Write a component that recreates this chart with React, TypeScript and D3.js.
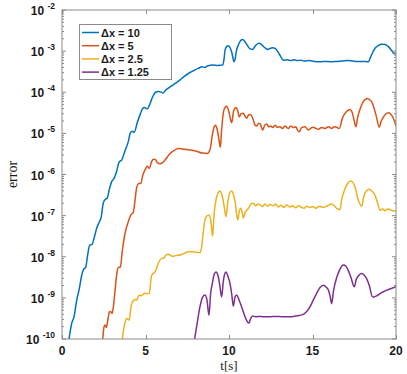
import React, { useEffect, useRef } from "react";
import * as d3 from "d3";

// [t, log10(error)]
const dx10: number[][] = [
  [0.42, -10], [0.58, -9.62], [0.72, -9.46], [0.88, -9.06], [1.04, -8.77], [1.18, -8.45], [1.3, -8.3], [1.42, -8.26],
  [1.52, -8.0], [1.66, -7.72], [1.8, -7.7], [1.92, -7.55], [2.08, -7.3], [2.24, -7.15], [2.34, -7.05], [2.47, -6.7],
  [2.6, -6.6], [2.7, -6.58], [2.84, -6.35], [2.97, -6.18], [3.11, -6.1], [3.25, -5.95], [3.43, -5.69], [3.57, -5.65],
  [3.75, -5.45], [3.97, -5.2], [4.1, -4.98], [4.2, -4.95], [4.33, -4.97], [4.5, -4.75], [4.67, -4.55], [4.82, -4.4],
  [4.95, -4.37], [5.1, -4.41], [5.25, -4.3], [5.43, -4.11], [5.6, -4.0], [5.75, -3.98], [5.9, -3.99], [6.05, -4.02],
  [6.2, -3.95], [6.47, -3.87], [6.8, -3.78], [7.07, -3.7], [7.3, -3.62], [7.66, -3.52], [7.9, -3.47], [8.16, -3.42],
  [8.4, -3.38], [8.56, -3.4], [8.7, -3.36], [9.06, -3.34], [9.3, -3.35], [9.62, -3.34], [9.7, -3.2], [9.76, -2.99],
  [9.85, -2.89], [9.96, -2.87], [10.08, -2.93], [10.18, -3.05], [10.3, -3.26], [10.36, -3.2], [10.45, -2.98],
  [10.56, -2.85], [10.7, -2.74], [10.8, -2.72], [10.96, -2.77], [11.1, -2.86], [11.22, -2.93], [11.4, -2.96],
  [11.6, -2.86], [11.78, -2.81], [11.95, -2.84], [12.1, -2.9], [12.3, -2.96], [12.42, -2.94], [12.6, -2.92],
  [12.75, -2.93], [12.9, -3.0], [13.05, -3.1], [13.2, -3.2], [13.3, -3.22], [13.5, -3.21], [13.7, -3.23],
  [13.9, -3.21], [14.1, -3.23], [14.3, -3.22], [14.5, -3.24], [14.8, -3.23], [15.1, -3.25], [15.45, -3.26],
  [15.8, -3.25], [16.1, -3.26], [16.45, -3.25], [16.8, -3.24], [17.1, -3.23], [17.4, -3.24], [17.7, -3.25],
  [18.0, -3.25], [18.34, -3.26], [18.5, -3.12], [18.74, -2.93], [18.95, -2.86], [19.14, -2.83], [19.35, -2.84],
  [19.54, -2.89], [19.75, -2.99], [19.85, -3.05], [20, -3.07],
];

const dx5: number[][] = [
  [2.44, -10], [2.52, -9.7], [2.58, -9.66], [2.66, -9.72], [2.74, -9.55], [2.84, -9.34], [2.9, -9.33], [3.0, -9.38],
  [3.08, -9.2], [3.17, -8.85], [3.27, -8.45], [3.37, -8.26], [3.5, -8.25], [3.6, -7.9], [3.7, -7.6], [3.82, -7.35],
  [3.97, -7.15], [4.11, -6.99], [4.27, -6.92], [4.38, -6.6], [4.47, -6.32], [4.6, -6.22], [4.71, -6.22], [4.85, -6.0],
  [4.97, -5.89], [5.11, -5.8], [5.23, -5.85], [5.37, -5.68], [5.5, -5.63], [5.6, -5.64], [5.72, -5.72], [5.87, -5.74],
  [6.0, -5.72], [6.17, -5.65], [6.47, -5.49], [6.7, -5.42], [6.97, -5.37], [7.2, -5.38], [7.47, -5.39], [7.8, -5.41],
  [8.1, -5.44], [8.4, -5.48], [8.7, -5.49], [8.86, -5.4], [9.0, -5.05], [9.1, -4.85], [9.18, -4.8], [9.28, -4.88],
  [9.38, -5.1], [9.48, -5.34], [9.56, -4.9], [9.66, -4.5], [9.78, -4.36], [9.86, -4.34], [9.96, -4.42], [10.06, -4.6],
  [10.16, -4.74], [10.28, -4.45], [10.42, -4.37], [10.52, -4.45], [10.62, -4.6], [10.72, -4.52], [10.86, -4.51],
  [10.96, -4.58], [11.06, -4.63], [11.18, -4.55], [11.3, -4.55], [11.46, -4.68], [11.56, -4.8], [11.66, -4.82],
  [11.76, -4.76], [11.86, -4.76], [11.95, -4.86], [12.02, -4.92], [12.14, -4.8], [12.26, -4.77], [12.38, -4.84],
  [12.5, -4.82], [12.62, -4.86], [12.75, -4.8], [12.9, -4.85], [13.05, -4.84], [13.2, -4.88], [13.35, -4.82],
  [13.55, -4.88], [13.7, -4.82], [13.85, -4.86], [14.0, -4.84], [14.1, -4.92], [14.21, -4.96], [14.35, -4.86],
  [14.55, -4.84], [14.75, -4.92], [14.9, -4.87], [15.05, -4.85], [15.2, -4.88], [15.35, -4.9], [15.55, -4.86],
  [15.75, -4.88], [15.95, -4.84], [16.15, -4.88], [16.3, -4.84], [16.45, -4.85], [16.6, -4.88], [16.8, -4.62],
  [17.04, -4.47], [17.24, -4.42], [17.4, -4.52], [17.5, -4.7], [17.6, -4.84], [17.7, -4.62], [17.8, -4.47],
  [18.04, -4.23], [18.28, -4.15], [18.54, -4.23], [18.8, -4.55], [19.0, -4.85], [19.1, -4.72], [19.28, -4.58],
  [19.54, -4.5], [19.8, -4.6], [20, -4.82],
];

const dx25: number[][] = [
  [3.61, -10], [3.7, -9.75], [3.77, -9.6], [3.87, -9.5], [3.95, -9.52], [4.03, -9.54], [4.12, -9.25], [4.2, -9.12],
  [4.37, -9.04], [4.47, -9.05], [4.63, -8.93], [4.75, -8.95], [4.97, -8.89], [5.1, -8.9], [5.23, -8.89], [5.3, -8.65],
  [5.37, -8.45], [5.57, -8.37], [5.65, -8.3], [5.77, -8.15], [5.97, -8.04], [6.1, -8.03], [6.2, -7.97], [6.37, -7.94],
  [6.5, -7.97], [6.66, -7.99], [6.85, -7.97], [7.07, -7.96], [7.3, -7.92], [7.56, -7.88], [7.8, -7.88], [8.26, -7.9],
  [8.36, -7.76], [8.46, -7.4], [8.56, -7.11], [8.7, -7.0], [8.82, -6.99], [8.92, -7.15], [9.02, -7.5], [9.1, -7.0],
  [9.22, -6.62], [9.34, -6.45], [9.46, -6.4], [9.58, -6.5], [9.7, -6.75], [9.82, -7.03], [9.92, -6.7], [10.04, -6.45],
  [10.16, -6.4], [10.26, -6.48], [10.36, -6.65], [10.52, -7.11], [10.62, -6.88], [10.7, -6.82], [10.78, -6.9],
  [10.86, -7.06], [10.96, -6.92], [11.06, -6.87], [11.2, -6.8], [11.3, -6.72], [11.46, -6.7], [11.6, -6.76],
  [11.72, -6.72], [11.86, -6.74], [12.0, -6.78], [12.15, -6.72], [12.3, -6.77], [12.45, -6.73], [12.65, -6.76],
  [12.8, -6.72], [12.95, -6.79], [13.1, -6.75], [13.3, -6.8], [13.45, -6.74], [13.65, -6.79], [13.8, -6.76],
  [14.0, -6.81], [14.15, -6.76], [14.3, -6.79], [14.5, -6.82], [14.65, -6.77], [14.85, -6.8], [15.0, -6.78],
  [15.2, -6.82], [15.4, -6.77], [15.65, -6.8], [15.9, -6.76], [16.15, -6.72], [16.35, -6.78], [16.5, -6.84],
  [16.65, -6.85], [16.75, -6.6], [16.85, -6.46], [17.1, -6.22], [17.29, -6.16], [17.54, -6.3], [17.74, -6.62],
  [17.95, -6.77], [18.05, -6.58], [18.14, -6.46], [18.4, -6.36], [18.6, -6.42], [18.74, -6.5], [18.9, -6.7],
  [19.04, -6.87], [19.2, -6.84], [19.34, -6.88], [19.5, -6.84], [19.64, -6.85], [19.8, -6.88], [20, -6.89],
];

const dx125: number[][] = [
  [7.94, -10], [8.1, -9.6], [8.26, -9.22], [8.4, -9.0], [8.56, -8.93], [8.68, -9.05], [8.8, -9.42], [8.9, -8.9],
  [9.02, -8.61], [9.12, -8.42], [9.22, -8.37], [9.34, -8.45], [9.45, -8.7], [9.56, -8.98], [9.66, -8.6], [9.74, -8.42],
  [9.82, -8.37], [9.94, -8.48], [10.06, -8.65], [10.16, -8.9], [10.26, -9.2], [10.36, -8.98], [10.46, -8.93],
  [10.6, -9.05], [10.76, -9.22], [10.96, -9.46], [11.1, -9.58], [11.2, -9.61], [11.3, -9.5], [11.42, -9.44],
  [11.6, -9.46], [11.8, -9.45], [12.06, -9.46], [12.4, -9.46], [12.8, -9.45], [13.25, -9.46], [13.65, -9.46],
  [14.0, -9.44], [14.45, -9.4], [14.65, -9.33], [14.85, -9.22], [15.05, -9.05], [15.25, -8.89], [15.45, -8.75],
  [15.65, -8.69], [15.82, -8.74], [15.95, -8.81], [16.05, -8.95], [16.15, -9.14], [16.25, -8.85], [16.35, -8.65],
  [16.61, -8.33], [16.85, -8.2], [17.0, -8.23], [17.14, -8.33], [17.3, -8.5], [17.5, -8.73], [17.62, -8.55],
  [17.74, -8.47], [17.95, -8.41], [18.1, -8.45], [18.24, -8.53], [18.4, -8.7], [18.6, -8.98], [19.24, -8.85],
  [20, -8.73],
];

const seriesList = [dx10, dx5, dx25, dx125];
const legendLabels = ["\u0394x = 10", "\u0394x = 5", "\u0394x = 2.5", "\u0394x = 1.25"];
const colors = ["#0072BD", "#D95319", "#EDB120", "#7E2F8E"];
const xTicks = [0, 5, 10, 15, 20];
const yTickExps = [-2, -3, -4, -5, -6, -7, -8, -9, -10];

function Chart() {
  const ref = useRef<SVGSVGElement>(null);

  useEffect(() => {
    const svg = d3.select(ref.current);
    svg.selectAll("*").remove();

    const margin = { top: 10, right: 11, bottom: 35, left: 62 };
    const width = 407;
    const height = 374;
    const axisColor = "#8a8a8a";
    const sans = "'Liberation Sans', Arial, sans-serif";
    const serif = "'Liberation Serif', 'DejaVu Serif', serif";

    const x = d3.scaleLinear().domain([0, 20]).range([margin.left, width - margin.right]);
    const y = d3.scaleLog().domain([1e-10, 1e-2]).range([height - margin.bottom, margin.top]);

    const x0 = margin.left, x1 = width - margin.right;
    const y0 = height - margin.bottom, y1 = margin.top;

    svg.append("rect").attr("width", width).attr("height", height).attr("fill", "white");

    // clip for lines
    svg.append("defs").append("clipPath").attr("id", "plot-clip")
      .append("rect").attr("x", x0).attr("y", y1).attr("width", x1 - x0).attr("height", y0 - y1);

    // Lines
    const line = d3.line<number[]>()
      .x(d => x(d[0]))
      .y(d => y(Math.pow(10, d[1])))
      .curve(d3.curveMonotoneX);

    const lines = svg.append("g").attr("clip-path", "url(#plot-clip)");
    seriesList.forEach((s, i) => {
      lines.append("path")
        .datum(s)
        .attr("d", line)
        .attr("fill", "none")
        .attr("stroke", colors[i])
        .attr("stroke-width", 1.5)
        .attr("stroke-linejoin", "round");
    });

    // Axes box
    const box = svg.append("g").attr("stroke", axisColor).attr("stroke-width", 1).attr("fill", "none");
    box.append("rect").attr("x", x0).attr("y", y1).attr("width", x1 - x0).attr("height", y0 - y1);

    // x ticks (inside, bottom and top)
    xTicks.forEach(t => {
      const px = Math.round(x(t)) + 0.5;
      box.append("line").attr("x1", px).attr("x2", px).attr("y1", y0).attr("y2", y0 - 4);
      box.append("line").attr("x1", px).attr("x2", px).attr("y1", y1).attr("y2", y1 + 4);
    });

    // y ticks, major + minor
    yTickExps.forEach(e => {
      const py = y(Math.pow(10, e));
      box.append("line").attr("x1", x0).attr("x2", x0 + 4).attr("y1", py).attr("y2", py);
      box.append("line").attr("x1", x1).attr("x2", x1 - 4).attr("y1", py).attr("y2", py);
      if (e < -2) {
        for (let k = 2; k <= 9; k++) {
          const my = y(k * Math.pow(10, e));
          box.append("line").attr("x1", x0).attr("x2", x0 + 2).attr("y1", my).attr("y2", my);
          box.append("line").attr("x1", x1).attr("x2", x1 - 2).attr("y1", my).attr("y2", my);
        }
      }
    });

    // x tick labels
    svg.append("g").selectAll("text")
      .data(xTicks)
      .join("text")
      .attr("x", d => x(d))
      .attr("y", y0 + 16)
      .attr("text-anchor", "middle")
      .attr("font-family", sans)
      .attr("font-weight", "bold")
      .attr("font-size", 12)
      .attr("fill", "#1a1a1a")
      .text(d => d);

    // y tick labels 10^e
    const yl = svg.append("g").selectAll("text")
      .data(yTickExps)
      .join("text")
      .attr("x", 55)
      .attr("y", d => y(Math.pow(10, d)) + 5)
      .attr("text-anchor", "end")
      .attr("font-family", sans)
      .attr("font-weight", "bold")
      .attr("font-size", 12)
      .attr("fill", "#1a1a1a");
    yl.append("tspan").text("10 ");
    yl.append("tspan").attr("dy", -6).attr("font-size", 8.5).text(d => d);

    // axis titles
    svg.append("text")
      .attr("x", (x0 + x1) / 2)
      .attr("y", 370)
      .attr("text-anchor", "middle")
      .attr("font-family", serif)
      .attr("font-size", 13)
      .attr("fill", "#1a1a1a")
      .text("t[s]");

    svg.append("text")
      .attr("transform", "rotate(-90)")
      .attr("x", -(y0 + y1) / 2)
      .attr("y", 17)
      .attr("text-anchor", "middle")
      .attr("font-family", serif)
      .attr("font-size", 14)
      .attr("fill", "#1a1a1a")
      .text("error");

    // Legend
    const lg = svg.append("g");
    lg.append("rect")
      .attr("x", 79.5).attr("y", 24.5).attr("width", 92).attr("height", 55)
      .attr("fill", "white").attr("stroke", axisColor);
    legendLabels.forEach((lab, i) => {
      const ly = 32.5 + i * 13.2;
      lg.append("line")
        .attr("x1", 82).attr("x2", 99).attr("y1", ly).attr("y2", ly)
        .attr("stroke", colors[i]).attr("stroke-width", 1.5);
      lg.append("text")
        .attr("x", 101).attr("y", ly + 4)
        .attr("font-family", sans)
        .attr("font-weight", "bold")
        .attr("font-size", 11)
        .attr("fill", "#1a1a1a")
        .text(lab);
    });
  }, []);

  return <svg ref={ref} width={407} height={374} style={{ display: "block" }}></svg>;
}

export default function App() {
  return (
    <div style={{ position: "absolute", left: 0, top: 0 }}>
      <Chart />
    </div>
  );
}
